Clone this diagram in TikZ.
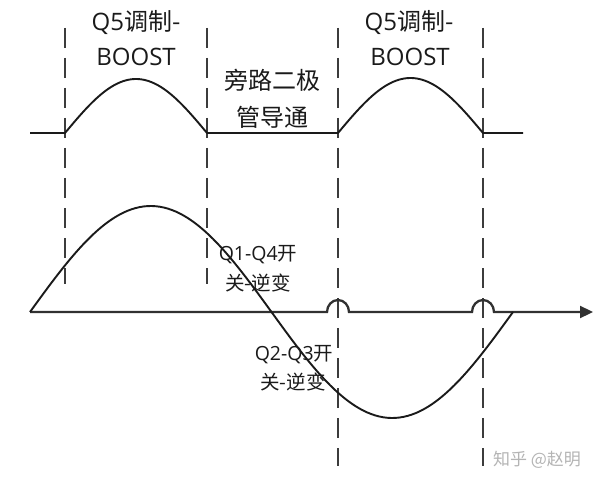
\documentclass[tikz,border=0pt]{standalone}
\usepackage{fontspec}
\setmainfont{Open Sans}
\newfontfamily\cjk{Noto Sans CJK SC}
\usetikzlibrary{arrows.meta}
\definecolor{ink}{HTML}{1A1A1A}
\definecolor{wm}{HTML}{B4B4B4}
\begin{document}
\begin{tikzpicture}[x=1pt,y=-1pt,
  wave/.style={draw=ink,line width=1.9pt},
  axisline/.style={draw=ink!90,line width=2.3pt},
  guide/.style={draw=ink!85,line width=2pt,dash pattern=on 20pt off 10pt},
  biglbl/.style={inner sep=0pt,text=ink,font=\fontsize{24}{28}\selectfont},
  smalllbl/.style={inner sep=0pt,text=ink,font=\fontsize{19.5}{23}\selectfont},
  wmlbl/.style={inner sep=0pt,text=wm,font=\fontsize{17}{20}\selectfont}]
\useasboundingbox (0,0) rectangle (600,484);
\fill[white] (0,0) rectangle (600,484);

% dashed guides
\draw[guide] (65,28) -- (65,284);
\draw[guide] (207,28) -- (207,284);
\draw[guide] (338,28) -- (338,466);
\draw[guide] (483,28) -- (483,466);

% top waveform
\draw[wave,line join=round] (30,133) -- (65,133)
  -- plot[domain=65:207,samples=60,smooth] (\x,{133-54*sin((\x-65)*1.26761)})
  -- (338,133)
  -- plot[domain=338:483,samples=60,smooth] (\x,{133-55*sin((\x-338)*1.24138)})
  -- (523,133);

% axis with hops
\draw[axisline,-{Triangle[length=13pt,width=12pt]}] (30,312) -- (327,312)
  arc[start angle=180,end angle=360,x radius=11,y radius=12] -- (472,312)
  arc[start angle=180,end angle=360,x radius=11,y radius=12] -- (593,312);

% bottom sine
\draw[wave] plot[domain=30:513,samples=120,smooth] (\x,{312-106*sin((\x-30)*0.745342)});

% labels
\node[biglbl] (t1a) at (136,23) {Q5\cjk{调制}-};
\node[biglbl] (t1b) at (136,57) {BOOST};
\node[biglbl] (t2a) at (272,80) {\cjk{旁路二极}};
\node[biglbl] (t2b) at (272,117) {\cjk{管导通}};
\node[biglbl] (t3a) at (409,23) {Q5\cjk{调制}-};
\node[biglbl] (t3b) at (410,57) {BOOST};
\node[smalllbl] (t4a) at (258,255) {Q1-Q4\cjk{开}};
\node[smalllbl] (t4b) at (258,283) {\cjk{关-逆变}};
\node[smalllbl] (t5a) at (294,355) {Q2-Q3\cjk{开}};
\node[smalllbl] (t5b) at (293,382) {\cjk{关-逆变}};
\node[wmlbl] (wmk) at (537,460) {\cjk{知乎 @赵明}};
\end{tikzpicture}
\end{document}
